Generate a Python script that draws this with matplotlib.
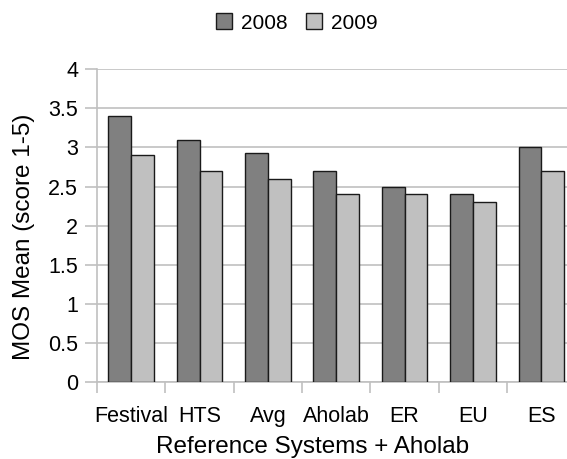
import matplotlib
matplotlib.use("Agg")
import matplotlib.pyplot as plt
import numpy as np

categories = ["Festival", "HTS", "Avg", "Aholab", "ER", "EU", "ES"]
series_names = ["2008", "2009"]
values_2008 = [3.4, 3.1, 2.93, 2.7, 2.5, 2.4, 3.0]
values_2009 = [2.9, 2.7, 2.6, 2.4, 2.4, 2.3, 2.7]
yticks = [0, 0.5, 1, 1.5, 2, 2.5, 3, 3.5, 4]
ytick_labels = ["0", "0.5", "1", "1.5", "2", "2.5", "3", "3.5", "4"]

plt.rcParams['font.family'] = ['Liberation Sans', 'DejaVu Sans']

W, H = 567, 459
fig = plt.figure(figsize=(W/100, H/100), dpi=100)
left, right = 97, 575.5
bottom, top = 382, 69.3
ax = fig.add_axes([left/W, 1-bottom/H, (right-left)/W, (bottom-top)/H])

x = np.arange(len(categories))
bw = 1/3
b1 = ax.bar(x - bw/2, values_2008, bw, color="#808080", edgecolor="#1a1a1a", linewidth=1.0, label=series_names[0], zorder=3)
b2 = ax.bar(x + bw/2, values_2009, bw, color="#c0c0c0", edgecolor="#1a1a1a", linewidth=1.0, label=series_names[1], zorder=3)

ax.set_xlim(-0.5, len(categories) - 0.5)
ax.set_ylim(0, 4)
ax.set_yticks(yticks)
ax.set_yticklabels(ytick_labels, fontsize=15.5)
ax.yaxis.grid(True, color="#c0c0c0", linewidth=1.2, zorder=0)
ax.set_axisbelow(True)

ax.set_xticks(x)
ax.set_xticklabels(categories, fontsize=15.5)
ax.tick_params(axis='x', length=0, pad=17)
ax.set_xticks(np.arange(len(categories) + 1) - 0.5, minor=True)
ax.tick_params(axis='x', which='minor', length=8, color="#c0c0c0", width=1.2)
ax.tick_params(axis='y', length=8.6, color="#c0c0c0", width=1.2, pad=5)

for s in ["top", "right"]:
    ax.spines[s].set_visible(False)
ax.spines["left"].set_color("#c0c0c0")
ax.spines["left"].set_linewidth(1.2)
ax.spines["bottom"].set_color("#c0c0c0")
ax.spines["bottom"].set_linewidth(1.2)

ax.set_ylabel("MOS Mean (score 1-5)", fontsize=17.5)
ax.yaxis.set_label_coords((24 - left) / (right - left), (bottom - 237) / (bottom - top))
ax.set_xlabel("Reference Systems + Aholab", fontsize=17.5)
ax.xaxis.set_label_coords((312.5 - left) / (right - left), -(446.5 - bottom) / (bottom - top))
ax.xaxis.label.set_va("center")
ax.yaxis.label.set_va("center")

fig.legend(handles=[b1, b2], labels=series_names, loc="center", bbox_to_anchor=(297/W, 1-23/H),
           ncol=2, frameon=False, fontsize=15, handlelength=0.77, handleheight=0.77,
           handletextpad=0.43, columnspacing=0.87, borderpad=0)

fig.savefig("out.png", dpi=100)
